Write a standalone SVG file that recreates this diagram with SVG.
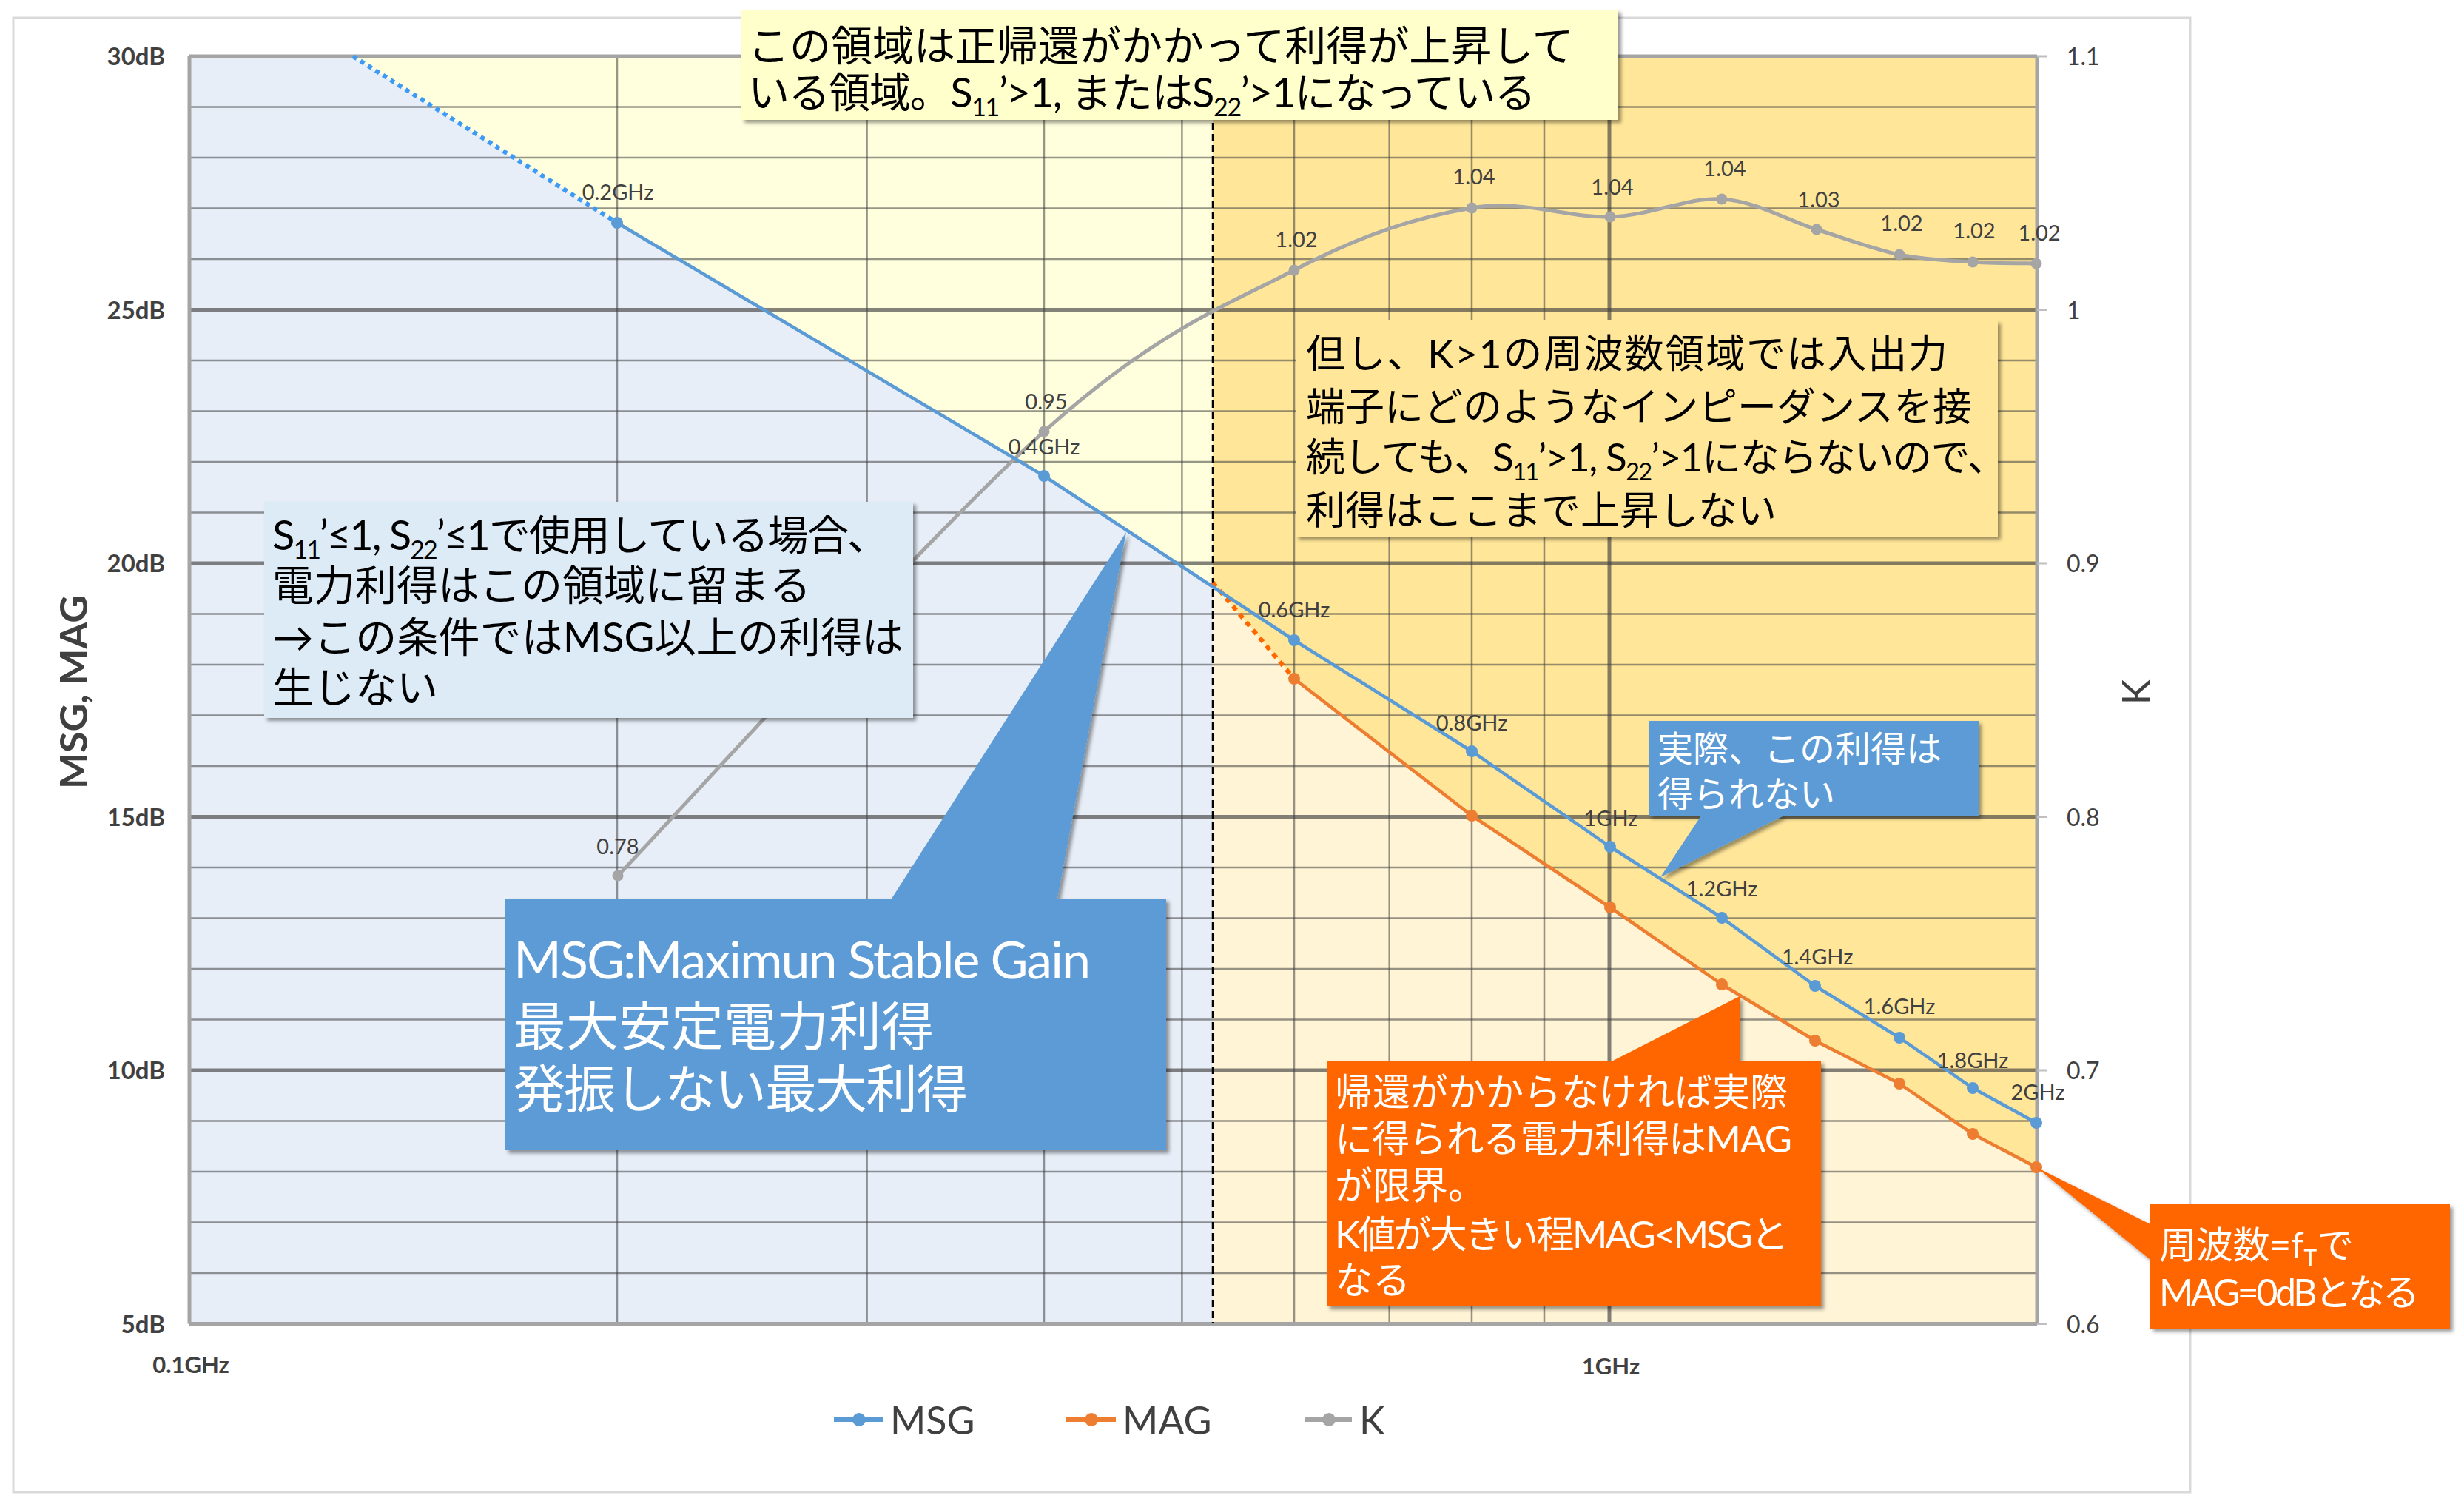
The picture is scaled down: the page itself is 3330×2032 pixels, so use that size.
<svg xmlns="http://www.w3.org/2000/svg" width="3330" height="2032" viewBox="0 0 3330 2032">
<defs>
<style>
text{font-family:Lato,"Noto Sans CJK JP",sans-serif}
.ylab{font-size:33px;font-weight:bold;fill:#404040;text-anchor:end}
.klab{font-size:32px;fill:#404040}
.xlab{font-size:31px;font-weight:bold;fill:#404040;text-anchor:middle}
.dl{font-size:29px;fill:#404040;text-anchor:middle}
.title{font-size:52px;fill:#404040;text-anchor:middle}
.leg{font-size:52px;fill:#404040}
.grid{stroke:#404040;stroke-opacity:.55;stroke-width:2.5;fill:none}
.gmaj{stroke:#404040;stroke-opacity:.65;stroke-width:5;fill:none}
.axis{stroke:#A5A5A5;stroke-width:5;fill:none}
.msg{stroke:#5B9BD5;stroke-width:4.5;fill:none;stroke-linejoin:round}
.mag{stroke:#ED7D31;stroke-width:4.5;fill:none;stroke-linejoin:round}
.kk{stroke:#A5A5A5;stroke-width:5;fill:none}
.jb{fill:#000}
.jw{fill:#fff}
</style>
<filter id="sh" x="-5%" y="-5%" width="115%" height="125%">
<feDropShadow dx="4" dy="4" stdDeviation="2.5" flood-color="#000" flood-opacity=".4"/>
</filter>
</defs>
<rect x="0" y="0" width="3330" height="2032" fill="#fff"/>
<rect id="chart-frame" x="18" y="24" width="2942" height="1992" fill="#fff" stroke="#D9D9D9" stroke-width="3"/>

<g id="regions">
<polygon points="256,76 477,76 834,301 1411,643 1639,789 1639,1788.5 256,1788.5" fill="#E7EEF8"/>
<polygon points="477,76 1639,76 1639,789 1411,643 834,301" fill="#FFFFDE"/>
<polygon points="1639,76 2753,76 2753,1577 2666,1532 2567,1464 2453,1406 2327,1330 2176,1226 1989,1102 1749,917 1639,787" fill="#FFE699"/>
<polygon points="1639,787 1749,917 1989,1102 2176,1226 2327,1330 2453,1406 2567,1464 2666,1532 2753,1577 2753,1788.5 1639,1788.5" fill="#FFF4D6"/>
</g>

<g id="gridlines">
<path class="grid" d="M256,144.5H2753M256,213H2753M256,281.5H2753M256,350H2753M256,487H2753M256,555.5H2753M256,624H2753M256,692.5H2753M256,829.5H2753M256,898H2753M256,966.5H2753M256,1035H2753M256,1172H2753M256,1240.5H2753M256,1309H2753M256,1377.5H2753M256,1514.5H2753M256,1583H2753M256,1651.5H2753M256,1720H2753"/>
<path class="gmaj" d="M256,418.5H2753M256,761H2753M256,1103.5H2753M256,1446H2753"/>
<path class="grid" d="M834,76V1788M1171.6,76V1788M1411,76V1788M1597.4,76V1788M1749,76V1788M1877.7,76V1788M1989,76V1788M2087,76V1788"/>
<path class="gmaj" stroke-width="4" d="M2175,76V1788"/>
<path class="axis" d="M256,76H2753M256,76V1788.5M2753,76V1788.5M256,1788.5H2753"/>
<path stroke="#BFBFBF" stroke-width="3" d="M2753,76h13M2753,418.5h13M2753,761h13M2753,1103.5h13M2753,1446h13M2753,1788.5h13"/>
<path stroke="#000" stroke-width="2.5" stroke-dasharray="10 5" d="M1639,76V1788"/>
</g>

<g id="axis-labels">
<text class="ylab" x="223" y="88">30dB</text>
<text class="ylab" x="223" y="430.5">25dB</text>
<text class="ylab" x="223" y="773">20dB</text>
<text class="ylab" x="223" y="1115.5">15dB</text>
<text class="ylab" x="223" y="1458">10dB</text>
<text class="ylab" x="223" y="1800.5">5dB</text>
<text class="klab" x="2793" y="88">1.1</text>
<text class="klab" x="2793" y="430.5">1</text>
<text class="klab" x="2793" y="773">0.9</text>
<text class="klab" x="2793" y="1115.5">0.8</text>
<text class="klab" x="2793" y="1458">0.7</text>
<text class="klab" x="2793" y="1800.5">0.6</text>
<text class="xlab" x="258" y="1855">0.1GHz</text>
<text class="xlab" x="2177" y="1857">1GHz</text>
<text class="title" font-weight="bold" transform="translate(118,935) rotate(-90)">MSG, MAG</text>
<text class="title" transform="translate(2906,935) rotate(-90)">K</text>
</g>

<g id="series-K">
<path class="kk" d="M835,1183 C931,1083 1258.7,719.3 1411,583 C1563.3,446.7 1652.7,415.3 1749,365 C1845.3,314.7 1917.8,293 1989,281 C2060.2,269 2119.7,295 2176,293 C2232.3,291 2280.5,266.2 2327,269 C2373.5,271.8 2415,297.5 2455,310 C2495,322.5 2531.8,336.7 2567,344 C2602.2,351.3 2635.2,352 2666,354 C2696.8,356 2737.7,355.7 2752,356"/>
<g fill="#A5A5A5">
<circle cx="835" cy="1183" r="7.5"/><circle cx="1411" cy="583" r="7.5"/><circle cx="1749" cy="365" r="7.5"/><circle cx="1989" cy="281" r="7.5"/><circle cx="2176" cy="293" r="7.5"/><circle cx="2327" cy="269" r="7.5"/><circle cx="2455" cy="310" r="7.5"/><circle cx="2567" cy="344" r="7.5"/><circle cx="2666" cy="354" r="7.5"/><circle cx="2752" cy="356" r="7.5"/>
</g>
<text class="dl" x="835" y="1154">0.78</text>
<text class="dl" x="1414" y="553">0.95</text>
<text class="dl" x="1752" y="334">1.02</text>
<text class="dl" x="1992" y="249">1.04</text>
<text class="dl" x="2179" y="263">1.04</text>
<text class="dl" x="2331" y="238">1.04</text>
<text class="dl" x="2458" y="280">1.03</text>
<text class="dl" x="2570" y="312">1.02</text>
<text class="dl" x="2668" y="322">1.02</text>
<text class="dl" x="2756" y="325">1.02</text>
</g>

<g id="series-MAG">
<path stroke="#FF6600" stroke-width="6" stroke-dasharray="7 7" d="M1639,787L1749,917"/>
<polyline class="mag" points="1749,917 1989,1102 2176,1226 2327,1330 2453,1406 2567,1464 2666,1532 2752,1577"/>
<g fill="#ED7D31">
<circle cx="1749" cy="917" r="8"/><circle cx="1989" cy="1102" r="8"/><circle cx="2176" cy="1226" r="8"/><circle cx="2327" cy="1330" r="8"/><circle cx="2453" cy="1406" r="8"/><circle cx="2567" cy="1464" r="8"/><circle cx="2666" cy="1532" r="8"/><circle cx="2752" cy="1577" r="8"/>
</g>
</g>

<g id="series-MSG">
<path stroke="#3D9AF5" stroke-width="6" stroke-dasharray="6 6" d="M477,76L834,301"/>
<polyline class="msg" points="834,301 1411,643 1749,865 1989,1015 2176,1144 2327,1240 2453,1332 2567,1402 2666,1470 2752,1517"/>
<g fill="#5B9BD5">
<circle cx="834" cy="301" r="8"/><circle cx="1411" cy="643" r="8"/><circle cx="1749" cy="865" r="8"/><circle cx="1989" cy="1015" r="8"/><circle cx="2176" cy="1144" r="8"/><circle cx="2327" cy="1240" r="8"/><circle cx="2453" cy="1332" r="8"/><circle cx="2567" cy="1402" r="8"/><circle cx="2666" cy="1470" r="8"/><circle cx="2752" cy="1517" r="8"/>
</g>
<text class="dl" x="835" y="270">0.2GHz</text>
<text class="dl" x="1411" y="614">0.4GHz</text>
<text class="dl" x="1749" y="834">0.6GHz</text>
<text class="dl" x="1989" y="987">0.8GHz</text>
<text class="dl" x="2177" y="1116">1GHz</text>
<text class="dl" x="2327" y="1211">1.2GHz</text>
<text class="dl" x="2456" y="1303">1.4GHz</text>
<text class="dl" x="2567" y="1370">1.6GHz</text>
<text class="dl" x="2666" y="1443">1.8GHz</text>
<text class="dl" x="2754" y="1486">2GHz</text>
</g>

<g id="callout-positive-feedback">
<rect x="1002" y="13" width="1185" height="149" fill="#FFFFCC" filter="url(#sh)"/>
<text class="jb" x="1011" y="82" font-size="56">この領域は正帰還がかかって利得が上昇して</text>
<text class="jb" x="1011" y="145" font-size="56" textLength="1065">いる領域。S<tspan dy="12" font-size="34">11</tspan><tspan dy="-12">’&gt;1, またはS</tspan><tspan dy="12" font-size="34">22</tspan><tspan dy="-12">’&gt;1になっている</tspan></text>
</g>

<g id="callout-k-gt-1">
<rect x="1751" y="433" width="949" height="292" fill="#FFE699" filter="url(#sh)"/>
<text class="jb" x="1765" y="497" font-size="53" textLength="867">但し、K&gt;1の周波数領域では入出力</text>
<text class="jb" x="1765" y="569" font-size="53">端子にどのようなインピーダンスを接</text>
<text class="jb" x="1765" y="637" font-size="53" textLength="947">続しても、S<tspan dy="12" font-size="32">11</tspan><tspan dy="-12">’&gt;1, S</tspan><tspan dy="12" font-size="32">22</tspan><tspan dy="-12">’&gt;1にならないので、</tspan></text>
<text class="jb" x="1765" y="709" font-size="53">利得はここまで上昇しない</text>
</g>

<g id="callout-stable-region">
<rect x="357" y="678" width="877" height="292" fill="#DDEBF7" filter="url(#sh)"/>
<text class="jb" x="368" y="743" font-size="56" textLength="833">S<tspan dy="12" font-size="34">11</tspan><tspan dy="-12">’≤1, S</tspan><tspan dy="12" font-size="34">22</tspan><tspan dy="-12">’≤1で使用している場合、</tspan></text>
<text class="jb" x="368" y="811" font-size="56">電力利得はこの領域に留まる</text>
<text class="jb" x="368" y="881" font-size="56" textLength="853">→この条件ではMSG以上の利得は</text>
<text class="jb" x="368" y="949" font-size="56">生じない</text>
</g>

<g id="callout-msg">
<path d="M683,1214H1205L1522,719L1429,1214H1576V1554H683Z" fill="#5B9BD5" filter="url(#sh)"/>
<text class="jw" x="694" y="1322" font-size="70" textLength="780">MSG:Maximun Stable Gain</text>
<text class="jw" x="694" y="1412" font-size="71">最大安定電力利得</text>
<text class="jw" x="694" y="1497" font-size="70" textLength="614">発振しない最大利得</text>
</g>

<g id="callout-not-obtained">
<path d="M2228,974H2674V1102H2411L2244,1185L2299,1102H2228Z" fill="#5B9BD5" filter="url(#sh)"/>
<text class="jw" x="2240" y="1029" font-size="48">実際、この利得は</text>
<text class="jw" x="2240" y="1090" font-size="48">得られない</text>
</g>

<g id="callout-mag">
<path d="M1793,1433H2180L2351,1346V1433H2461V1765H1793Z" fill="#FF6600" filter="url(#sh)"/>
<text class="jw" x="1804" y="1494" font-size="51">帰還がかからなければ実際</text>
<text class="jw" x="1804" y="1557" font-size="51" textLength="618">に得られる電力利得はMAG</text>
<text class="jw" x="1804" y="1620" font-size="51">が限界。</text>
<text class="jw" x="1804" y="1686" font-size="51" textLength="613">K値が大きい程MAG&lt;MSGと</text>
<text class="jw" x="1804" y="1748" font-size="51">なる</text>
</g>

<g id="callout-ft">
<path d="M2906,1627H3311V1795H2906V1702L2752,1577L2906,1654Z" fill="#FF6600" filter="url(#sh)"/>
<text class="jw" x="2918" y="1700" font-size="50" textLength="263">周波数=f<tspan dy="10" font-size="30">T</tspan><tspan dy="-10">で</tspan></text>
<text class="jw" x="2918" y="1764" font-size="50" textLength="352">MAG=0dBとなる</text>
</g>

<g id="legend">
<path stroke="#5B9BD5" stroke-width="6" d="M1127,1918H1194"/><circle cx="1161" cy="1918" r="9" fill="#5B9BD5"/>
<text class="leg" x="1203" y="1938">MSG</text>
<path stroke="#ED7D31" stroke-width="6" d="M1441,1918H1508"/><circle cx="1475" cy="1918" r="9" fill="#ED7D31"/>
<text class="leg" x="1517" y="1938">MAG</text>
<path stroke="#A5A5A5" stroke-width="6" d="M1763,1918H1827"/><circle cx="1796" cy="1918" r="9" fill="#A5A5A5"/>
<text class="leg" x="1837" y="1938">K</text>
</g>
</svg>
